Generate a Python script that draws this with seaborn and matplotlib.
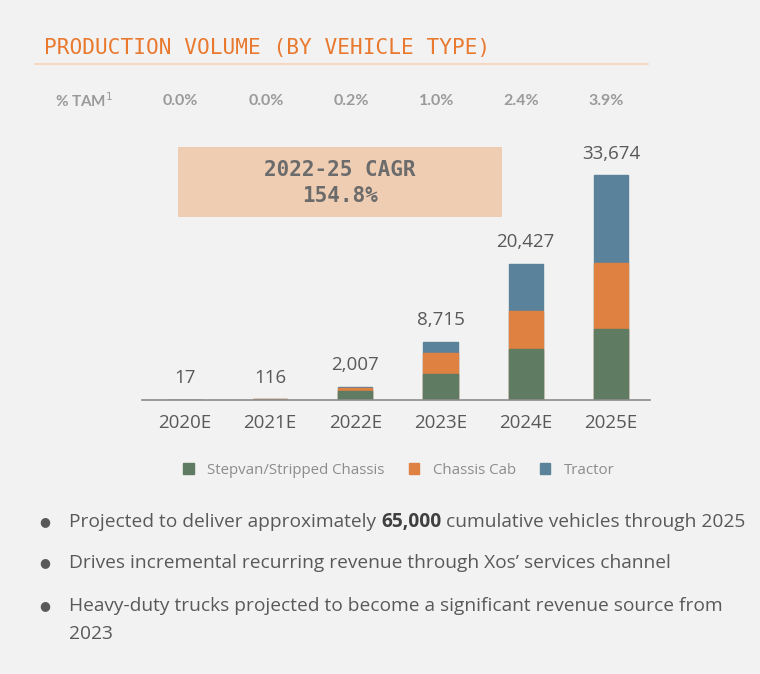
import matplotlib
matplotlib.use("Agg")
import matplotlib.pyplot as plt
from matplotlib.patches import Patch, Rectangle
from matplotlib.lines import Line2D
from matplotlib.transforms import blended_transform_factory
import pandas as pd
import seaborn as sns

years = ["2020E", "2021E", "2022E", "2023E", "2024E", "2025E"]
stepvan = [17, 40, 1300, 3890, 7630, 10630]
chassis_cab = [0, 76, 450, 3080, 5690, 9874]
tractor = [0, 0, 257, 1745, 7107, 13170]
totals = ["17", "116", "2,007", "8,715", "20,427", "33,674"]
tam = ["0.0%", "0.0%", "0.2%", "1.0%", "2.4%", "3.9%"]
bullets = [
    ("Projected to deliver approximately ", "65,000", " cumulative vehicles through 2025"),
    ("Drives incremental recurring revenue through Xos\u2019 services channel", "", ""),
    ("Heavy-duty trucks projected to become a significant revenue source from", "", ""),
]
bullet_extra = "2023"

GREEN = "#5f7b62"
ORANGE = "#df8140"
BLUE = "#5a829a"
BG = "#f2f2f2"
TXT = "#595959"
W, H = 760, 674

df = pd.DataFrame({"year": years, "stepvan": stepvan,
                   "cab": chassis_cab, "tractor": tractor})
df["lvl2"] = df["stepvan"] + df["cab"]
df["lvl3"] = df["lvl2"] + df["tractor"]

sns.set_style("white")
plt.rcParams["font.family"] = ["Open Sans", "DejaVu Sans"]

fig = plt.figure(figsize=(W / 100, H / 100), dpi=100, facecolor=BG)


def fx(px):
    return px / W


def fy(py):
    return 1 - py / H


# bar axes: baseline at y=400px, x from 142 to 650 px
ax = fig.add_axes([fx(142), fy(400), fx(650) - fx(142), (400 - 130) / H])
ax.set_facecolor(BG)
# stacked look: draw the cumulative totals back to front
for col, c in [("lvl3", BLUE), ("lvl2", ORANGE), ("stepvan", GREEN)]:
    sns.barplot(data=df, x="year", y=col, color=c, width=0.4, saturation=1,
                ax=ax, linewidth=1, edgecolor=c)
ax.set_xlim(-0.505, 5.46)
ax.set_ylim(0, 270 * 149.7)
ax.set_xlabel("")
ax.set_ylabel("")
ax.set_yticks([])
for s in ["top", "right", "left"]:
    ax.spines[s].set_visible(False)
ax.spines["bottom"].set_color("#8c8c8c")
ax.spines["bottom"].set_linewidth(1.2)
ax.tick_params(axis="x", length=0, pad=10, labelsize=13.5, labelcolor=TXT)

for i, lab in enumerate(totals):
    ax.annotate(lab, (i, df["lvl3"][i]), xytext=(0, 9), textcoords="offset points",
                ha="center", va="bottom", fontsize=13.5, color=TXT)

# % TAM row
tr = blended_transform_factory(ax.transData, fig.transFigure)
fig.text(fx(55), fy(101), "% TAM$^1$", fontsize=11, fontweight="bold",
         family=["Lato", "DejaVu Sans"], color="#9a9a9a", va="center", ha="left")
for i, t in enumerate(tam):
    ax.text(i - 0.05, fy(101), t, transform=tr, ha="center", va="center",
            fontsize=11.5, fontweight="bold", family=["Lato", "DejaVu Sans"],
            color="#9a9a9a")

# title and rule
fig.text(fx(44), fy(48), "PRODUCTION VOLUME (BY VEHICLE TYPE)", fontsize=15.2,
         family="DejaVu Sans Mono", color="#e8792f", va="center", ha="left")
fig.add_artist(Line2D([fx(35), fx(648)], [fy(64), fy(64)], color="#f8d8bf", lw=1.5))

# CAGR box
fig.add_artist(Rectangle((fx(178), fy(217)), fx(502) - fx(178), (217 - 147) / H,
                         facecolor="#efcdb3", edgecolor="none"))
fig.text(fx(340), fy(170), "2022-25 CAGR", family="DejaVu Sans Mono",
         fontweight="bold", fontsize=15, color="#6b6b6b", ha="center", va="center")
fig.text(fx(340), fy(196), "154.8%", family="DejaVu Sans Mono",
         fontweight="bold", fontsize=15, color="#6b6b6b", ha="center", va="center")

# legend
handles = [Patch(color=GREEN, label="Stepvan/Stripped Chassis"),
           Patch(color=ORANGE, label="Chassis Cab"),
           Patch(color=BLUE, label="Tractor")]
fig.legend(handles=handles, loc="center", bbox_to_anchor=(fx(399), fy(470)),
           ncol=3, frameon=False, fontsize=10.8, labelcolor="#8c8c8c",
           handlelength=0.7, handleheight=0.7, handletextpad=0.9, columnspacing=1.6)

# bullets
fig.canvas.draw()
renderer = fig.canvas.get_renderer()
ys = [522, 563, 606]
fs = 13.75
for yb, (a, b, c) in zip(ys, bullets):
    fig.text(fx(45), fy(yb), "\u25CF", fontsize=9, color=TXT,
             ha="center", va="center", family="DejaVu Sans")
    t = fig.text(fx(69), fy(yb), a, fontsize=fs, color=TXT,
                 ha="left", va="center")
    if b:
        x1 = t.get_window_extent(renderer).x1
        t2 = fig.text(x1 / W, fy(yb), b, fontsize=fs, color="#404040",
                      fontweight="bold", ha="left", va="center")
        x2 = t2.get_window_extent(renderer).x1
        fig.text(x2 / W, fy(yb), c, fontsize=fs, color=TXT,
                 ha="left", va="center")
fig.text(fx(69), fy(634), bullet_extra, fontsize=fs, color=TXT,
         ha="left", va="center")

fig.savefig("out.png", dpi=100, facecolor=BG)
